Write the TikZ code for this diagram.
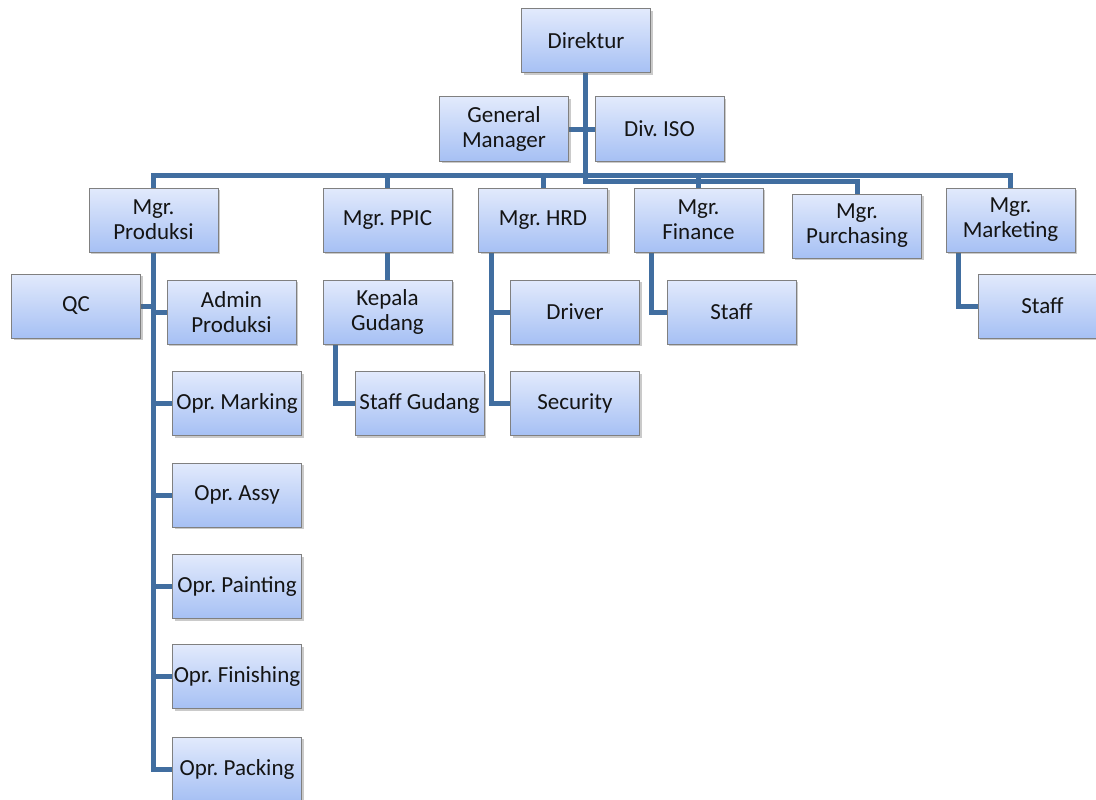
\documentclass[tikz,border=0pt]{standalone}
\usepackage{fontspec}
\setmainfont{Carlito}
\frenchspacing
\usetikzlibrary{shadows,backgrounds}
\definecolor{linec}{RGB}{65,110,160}
\definecolor{boxtop}{RGB}{226,234,252}
\definecolor{boxbot}{RGB}{166,192,244}
\definecolor{boxborder}{RGB}{128,128,128}
\definecolor{txt}{RGB}{20,20,20}
\tikzset{
  box/.style={rectangle, draw=boxborder, line width=1pt, top color=boxtop, bottom color=boxbot,
    minimum width=129pt, minimum height=64pt, inner sep=0pt, align=center, text=txt,
    font=\frenchspacing\fontsize{23}{25}\selectfont,
    drop shadow={opacity=0.35, shadow xshift=2pt, shadow yshift=-2pt, fill=black!60}},
  conn/.style={draw=linec, line width=5pt, line join=miter}
}
\begin{document}
\begin{tikzpicture}[x=1pt,y=-1pt]
\useasboundingbox (0,0) rectangle (1096,800);
% top
\node[box] (dir) at (586,41) {Direktur};
\node[box] (gm) at (504,129) {General\\Manager};
\node[box] (iso) at (659.5,129) {Div. ISO};
% managers
\node[box] (prod) at (153.5,220) {Mgr.\\Produksi};
\node[box] (ppic) at (387.5,220) {Mgr. PPIC};
\node[box] (hrd) at (543,220) {Mgr. HRD};
\node[box] (fin) at (698.5,220) {Mgr.\\Finance};
\node[box] (pur) at (857,226) {Mgr.\\Purchasing};
\node[box] (mkt) at (1010.5,220) {Mgr.\\Marketing};
% level 3
\node[box] (qc) at (76,306) {QC};
\node[box] (adm) at (231.5,312) {Admin\\Produksi};
\node[box] (kep) at (387.5,312) {Kepala\\Gudang};
\node[box] (drv) at (575,312) {Driver};
\node[box] (stf1) at (731.5,312) {Staff};
\node[box] (stf2) at (1042.5,306) {Staff};
\node[box] (sg) at (419.5,403.5) {Staff Gudang};
\node[box] (sec) at (575,403.5) {Security};
\node[box] (mark) at (237,403.5) {Opr. Marking};
\node[box] (assy) at (237,495) {Opr. Assy};
\node[box] (paint) at (237,586.5) {Opr. Painting};
\node[box] (fini) at (237,676.5) {Opr. Finishing};
\node[box] (pack) at (237,769) {Opr. Packing};
% connectors
\coordinate (bus) at (0,175);
\coordinate (t1) at (585,181);
\coordinate (kx) at (335,0);
\coordinate (hx) at (491,0);
\coordinate (fx) at (651,0);
\coordinate (mx) at (958,0);
\begin{pgfonlayer}{background}
\draw[conn] (dir.south -| t1) -- (t1) -| (pur.north);
\draw[conn] (gm.east) -- (iso.west);
\draw[conn] (prod.north) -- (prod.north |- bus) -| (mkt.north);
\draw[conn] (ppic.north) -- (ppic.north |- bus);
\draw[conn] (hrd.north) -- (hrd.north |- bus);
\draw[conn] (fin.north) -- (fin.north |- bus);
\draw[conn] (prod.south) |- (pack.west);
\draw[conn] (qc.east) -- (qc.east -| prod.south);
\draw[conn] (adm.west) -- (adm.west -| prod.south);
\draw[conn] (mark.west) -- (mark.west -| prod.south);
\draw[conn] (assy.west) -- (assy.west -| prod.south);
\draw[conn] (paint.west) -- (paint.west -| prod.south);
\draw[conn] (fini.west) -- (fini.west -| prod.south);
\draw[conn] (ppic.south) -- (kep.north);
\draw[conn] (kep.south -| kx) |- (sg.west);
\draw[conn] (hrd.south -| hx) |- (sec.west);
\draw[conn] (drv.west) -- (drv.west -| hx);
\draw[conn] (fin.south -| fx) |- (stf1.west);
\draw[conn] (mkt.south -| mx) |- (stf2.west);
\end{pgfonlayer}
\end{tikzpicture}
\end{document}
